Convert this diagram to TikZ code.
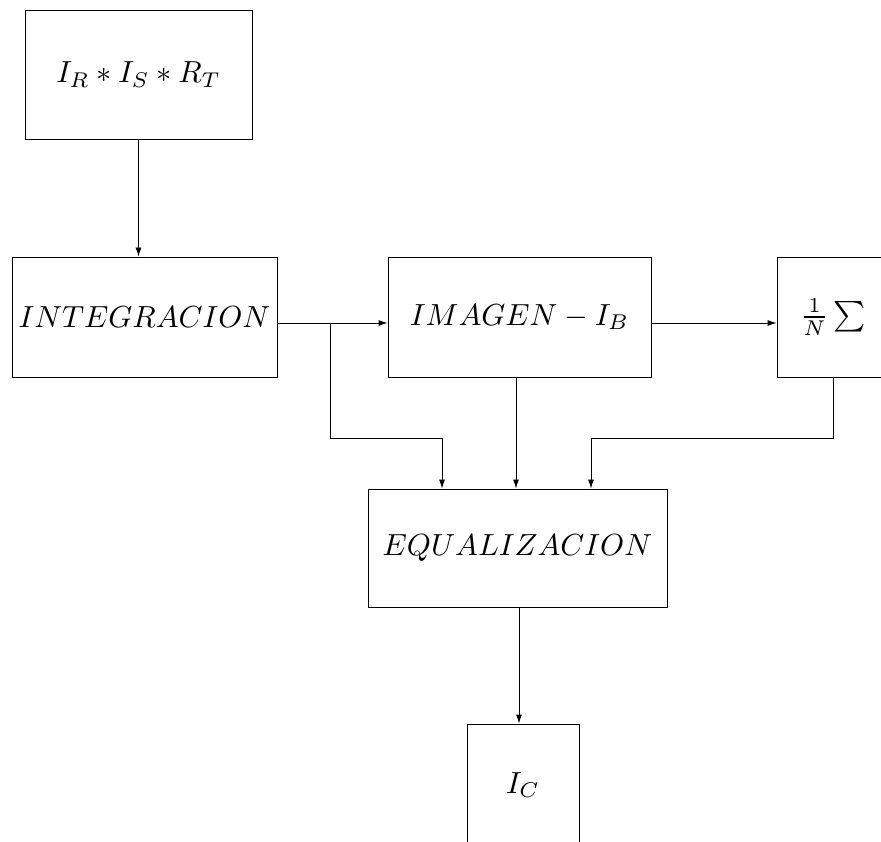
\documentclass[tikz,border=0pt]{standalone}
\usepackage{graphicx}
\usetikzlibrary{arrows.meta}
\newcommand{\bigtxt}[1]{\scalebox{3.05}{#1}}
\begin{document}
\begin{tikzpicture}[x=1pt,y=-1pt,
  box/.style={draw, line width=0.9pt, inner sep=0pt},
  arr/.style={line width=0.9pt, -{Latex[length=9pt,width=6pt]}},
  ln/.style={line width=0.9pt}]
\useasboundingbox (0,0) rectangle (881,842);
\node[box, minimum width=227pt, minimum height=129pt] (src) at (138.5,74.5) {\raisebox{-5pt}{\bigtxt{$I_R*I_S*R_T$}}};
\node[box, minimum width=265pt, minimum height=120pt] (integ) at (144.5,317) {\bigtxt{$INTEGRACION$}};
\node[box, minimum width=263pt, minimum height=120pt] (imagen) at (519.5,317) {\bigtxt{$IMAGEN-I_B$}};
\node[box, minimum width=112pt, minimum height=120pt] (avg) at (833,317) {\bigtxt{$\frac{1}{N}\sum$}};
\node[box, minimum width=299pt, minimum height=118pt] (equal) at (517.5,548) {\bigtxt{$EQUALIZACION$}};
\node[box, minimum width=112pt, minimum height=122pt] (out) at (523,785) {\bigtxt{$I_C$}};
\coordinate (j) at (330,323);
\coordinate (b1) at (442,438);
\coordinate (b2) at (516,0);
\coordinate (b3) at (591,438);
\coordinate (b4) at (519,0);
\draw[arr] (src.south) -- (src.south |- integ.north);
\draw[ln] (integ.east |- j) -- (j);
\draw[arr] (j) -- (imagen.west |- j);
\draw[arr] (j) |- (b1) -- (b1 |- equal.north);
\draw[arr] (imagen.south -| b2) -- (equal.north -| b2);
\draw[arr] (imagen.east |- j) -- (avg.west |- j);
\draw[arr] (avg.south) |- (b3) -- (b3 |- equal.north);
\draw[arr] (equal.south -| b4) -- (out.north -| b4);
\end{tikzpicture}
\end{document}
